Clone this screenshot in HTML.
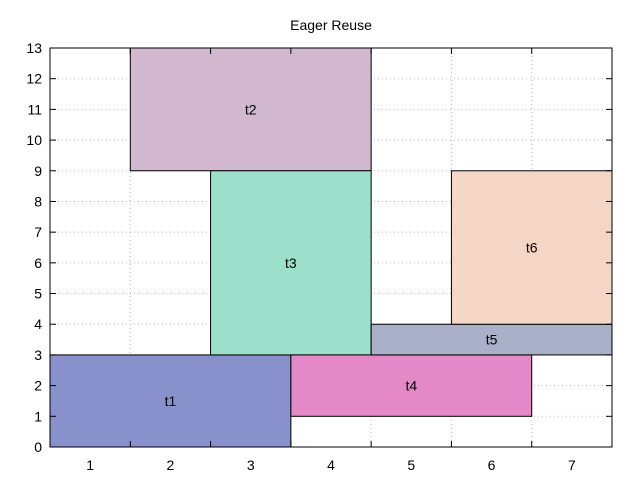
<!DOCTYPE html>
<html><head><meta charset="utf-8"><style>body{margin:0;background:#fff}svg{display:block;font-family:"Liberation Sans",sans-serif}</style></head>
<body>
<svg id="c" width="640" height="480">
<text x="331" y="30" font-size="14" text-anchor="middle">Eager Reuse</text>
<g id="grid"></g><g id="bars"></g><g id="axes"></g>
</svg>
<script>
const taskNames=["t1","t2","t3","t4","t5","t6"];
const xStart=[0.5,1.5,2.5,3.5,4.5,5.5];
const xEnd=[3.5,4.5,4.5,6.5,7.5,7.5];
const yStart=[0,9,3,1,3,4];
const yEnd=[3,13,9,3,4,9];
const colors=["#8891cc","#d2b8cf","#9ce0cc","#e489c7","#aab0c8","#f5d6c6"];
const xTicks=[1,2,3,4,5,6,7];
const yTicks=[0,1,2,3,4,5,6,7,8,9,10,11,12,13];
const L=50,R=612,T=48,B=447;
const sx=v=>L+(v-0.5)/7*(R-L);
const sy=v=>B-v/13*(B-T);
const NS="http://www.w3.org/2000/svg";
function mk(p,t,a){const e=document.createElementNS(NS,t);for(const k in a)e.setAttribute(k,a[k]);p.appendChild(e);return e;}
const g=document.getElementById('grid'),bars=document.getElementById('bars'),ax=document.getElementById('axes');
yTicks.forEach(v=>{
 if(v>0&&v<13){const l=mk(g,'line',{x1:L,x2:R,y1:sy(v),y2:sy(v),stroke:'#bbb','stroke-dasharray':'1,3'});
 
 }
 mk(ax,'line',{x1:L,x2:L+6,y1:sy(v),y2:sy(v),stroke:'#000'});
 mk(ax,'line',{x1:R,x2:R-6,y1:sy(v),y2:sy(v),stroke:'#000'});
 const t=mk(ax,'text',{x:L-8,y:sy(v)+5,'font-size':14,'text-anchor':'end'});t.textContent=v;
 
 
});
for(let i=1;i<7;i++){const v=i+0.5;
 const l=mk(g,'line',{x1:sx(v),x2:sx(v),y1:T,y2:B,stroke:'#bbb','stroke-dasharray':'1,3'});
 
 
 mk(ax,'line',{x1:sx(v),x2:sx(v),y1:B,y2:B-6,stroke:'#000'});
 mk(ax,'line',{x1:sx(v),x2:sx(v),y1:T,y2:T+6,stroke:'#000'});}
xTicks.forEach(v=>{const t=mk(ax,'text',{x:sx(v),y:B+23,'font-size':14,'text-anchor':'middle'});t.textContent=v;
 
 });
taskNames.forEach((n,i)=>{
 const r=mk(bars,'rect',{x:sx(xStart[i]),y:sy(yEnd[i]),width:sx(xEnd[i])-sx(xStart[i]),height:sy(yStart[i])-sy(yEnd[i]),fill:colors[i],stroke:'#000','stroke-width':1});
 
 
 const t=mk(bars,'text',{x:(sx(xStart[i])+sx(xEnd[i]))/2,y:(sy(yStart[i])+sy(yEnd[i]))/2+5,'font-size':14,'text-anchor':'middle'});t.textContent=n;
 
 
});
const f=mk(ax,'rect',{x:L,y:T,width:R-L,height:B-T,fill:'none',stroke:'#000'});


</script>
</body></html>
